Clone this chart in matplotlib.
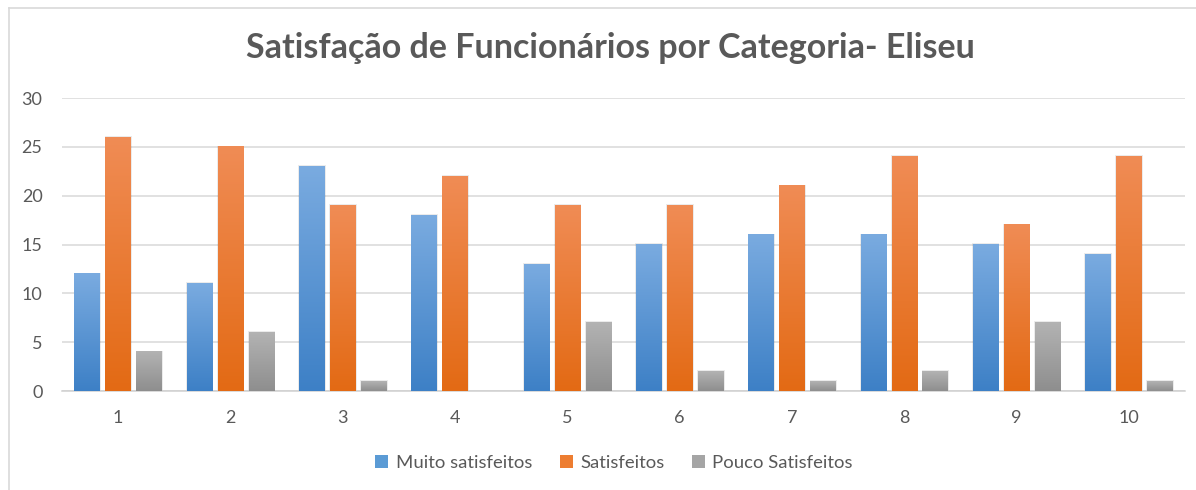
import numpy as np
import matplotlib.pyplot as plt
from matplotlib.colors import LinearSegmentedColormap
from matplotlib.patches import Patch
from matplotlib.lines import Line2D

categorias = ['1', '2', '3', '4', '5', '6', '7', '8', '9', '10']
muito_satisfeitos = [12, 11, 23, 18, 13, 15, 16, 16, 15, 14]
satisfeitos = [26, 25, 19, 22, 19, 19, 21, 24, 17, 24]
pouco_satisfeitos = [4, 6, 1, 0, 7, 2, 1, 2, 7, 1]

series = [
    ('Muito satisfeitos', muito_satisfeitos, '#5B9BD5', '#7aabe0', '#3d80c6'),
    ('Satisfeitos', satisfeitos, '#ED7D31', '#f08c55', '#e36a14'),
    ('Pouco Satisfeitos', pouco_satisfeitos, '#A5A5A5', '#b3b3b3', '#8e8e8e'),
]

plt.rcParams['font.family'] = ['Lato', 'DejaVu Sans']
texto = '#595959'

fig = plt.figure(figsize=(11.96, 4.90), dpi=100)
ax = fig.add_axes([62 / 1196, 1 - 391 / 490, (1185 - 62) / 1196, (391 - 98) / 490])

x = np.arange(1, len(categorias) + 1)
largura = 0.227
passo = 0.276

for i, (nome, valores, cor, topo, base) in enumerate(series):
    barras = ax.bar(x + (i - 1) * passo, valores, largura, color='none', zorder=3)
    cmap = LinearSegmentedColormap.from_list(nome, [base, topo])
    grad = np.linspace(0, 1, 256).reshape(-1, 1)
    for b in barras:
        h = b.get_height()
        if h <= 0:
            continue
        x0, w = b.get_x(), b.get_width()
        # soft shadow behind each bar
        ax.add_patch(plt.Rectangle((x0 - 0.006, 0), w + 0.016, h + 0.12,
                                   color='#000000', alpha=0.08, lw=0, zorder=2))
        ax.imshow(grad, extent=(x0, x0 + w, 0, h), origin='lower', cmap=cmap,
                  aspect='auto', zorder=3, interpolation='bicubic')

ax.set_xlim(0.5, 10.5)
ax.set_ylim(0, 30)
ax.set_yticks(range(0, 31, 5))
ax.set_xticks(x)
ax.set_xticklabels(categorias)
ax.grid(axis='y', color='#d9d9d9', linewidth=1.1, zorder=0)
ax.set_axisbelow(True)
for s in ['top', 'right', 'left']:
    ax.spines[s].set_visible(False)
ax.spines['bottom'].set_color('#d0d0d0')
ax.spines['bottom'].set_linewidth(1.1)
ax.tick_params(axis='both', length=0, labelsize=13, colors=texto)
ax.tick_params(axis='y', pad=14)
ax.tick_params(axis='x', pad=14)

fig.text(610 / 1196, 1 - 48 / 490, 'Satisfação de Funcionários por Categoria- Eliseu',
         ha='center', va='center', fontsize=24.5, fontweight='bold', color=texto)

# chart frame
fig.add_artist(Line2D([9 / 1196, 9 / 1196], [0, 1 - 8 / 490], transform=fig.transFigure,
                      color='#d9d9d9', lw=1.2))
fig.add_artist(Line2D([9 / 1196, 1], [1 - 8 / 490, 1 - 8 / 490], transform=fig.transFigure,
                      color='#d9d9d9', lw=1.2))

handles = [Patch(facecolor=c, edgecolor='none', label=n) for n, _, c, _, _ in series]
fig.legend(handles=handles, loc='center', bbox_to_anchor=(614 / 1196, 1 - 463 / 490), ncol=3,
           frameon=False, fontsize=13.3, labelcolor=texto, handlelength=0.7, handleheight=0.7,
           handletextpad=0.4, columnspacing=1.5)

fig.savefig('out.png', dpi=100)
